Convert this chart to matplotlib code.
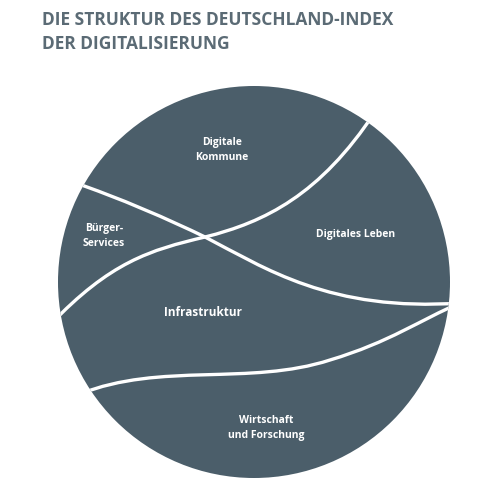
import matplotlib
matplotlib.use("Agg")
import matplotlib.pyplot as plt
from matplotlib.patches import Circle, PathPatch
from matplotlib.path import Path

title_lines = ["DIE STRUKTUR DES DEUTSCHLAND-INDEX", "DER DIGITALISIERUNG"]
region_labels = ["Digitale\nKommune", "Bürger-\nServices", "Digitales Leben", "Infrastruktur", "Wirtschaft\nund Forschung"]
label_pos = [(222, 150), (104, 236), (356, 235), (203, 313), (266, 428)]
label_size = [7.5, 7.5, 7.5, 8.5, 7.5]

fill = "#4b5e6a"
title_c = "#5b6b75"

fig = plt.figure(figsize=(4.8, 4.8), dpi=100)
ax = fig.add_axes([0, 0, 1, 1])
ax.set_xlim(0, 480); ax.set_ylim(480, 0); ax.axis("off")

circ = Circle((254, 282), 196, facecolor=fill, edgecolor="none")
ax.add_patch(circ)

C = Path.CURVE4
curves = [
    [(50, 325), (110, 262), (150, 250), (205, 237), (265, 222), (320, 195), (375, 112)],
    [(70, 181), (120, 198), (170, 220), (205, 237), (265, 268), (330, 312), (460, 303)],
    [(80, 394), (160, 362), (250, 386), (330, 360), (390, 342), (420, 320), (460, 303)],
]
for pts in curves:
    path = Path(pts, [Path.MOVETO, C, C, C, C, C, C])
    pp = PathPatch(path, facecolor="none", edgecolor="white", lw=2.4)
    ax.add_patch(pp)
    pp.set_clip_path(circ)

for t, (x, y), s in zip(region_labels, label_pos, label_size):
    ax.text(x, y, t, color="white", fontsize=s, fontweight="bold", ha="center", va="center",
            linespacing=1.4, family="Open Sans")

for i, t in enumerate(title_lines):
    ax.text(42, 20 + i * 24, t, color=title_c, fontsize=12.5, fontweight="bold",
            ha="left", va="center", family="Open Sans")

fig.savefig("out.png", dpi=100, facecolor="white")
